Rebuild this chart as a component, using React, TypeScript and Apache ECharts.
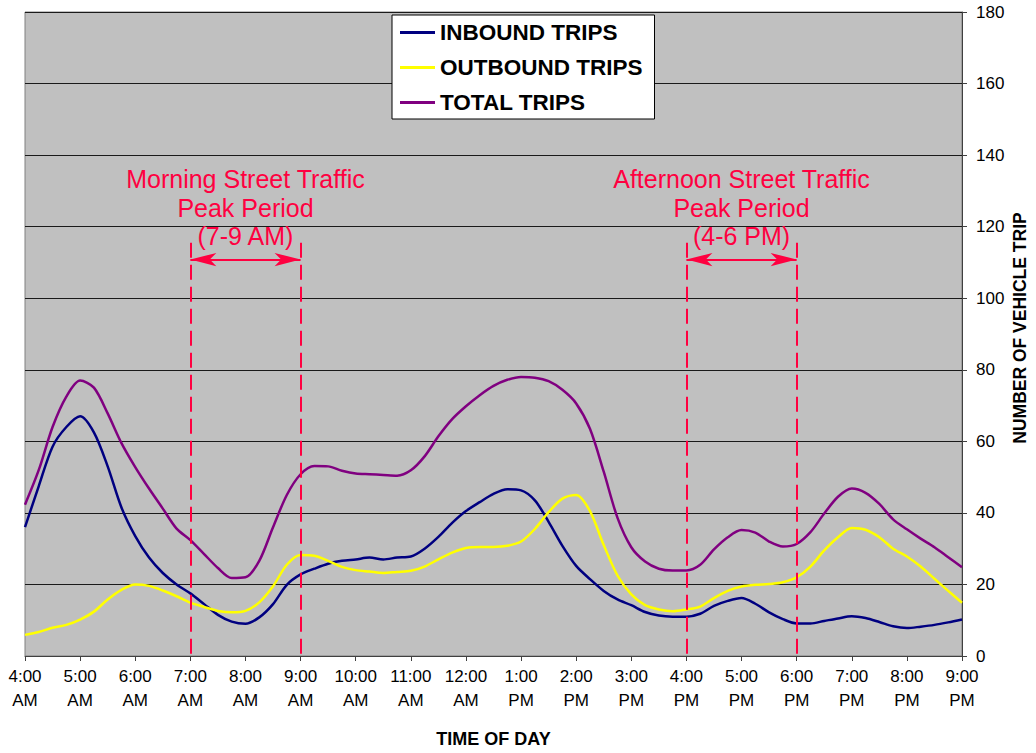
import React, { useEffect, useRef } from "react";
import * as echarts from "echarts";

// Hour ticks shown along the bottom axis (4 AM .. 9 PM)
const tickLabels = [
  "4:00\nAM", "5:00\nAM", "6:00\nAM", "7:00\nAM", "8:00\nAM", "9:00\nAM",
  "10:00\nAM", "11:00\nAM", "12:00\nAM", "1:00\nPM", "2:00\nPM", "3:00\nPM",
  "4:00\nPM", "5:00\nPM", "6:00\nPM", "7:00\nPM", "8:00\nPM", "9:00\nPM",
];

const startHour = 4;
const stepHours = 0.25; // readings every 15 minutes

const inboundTrips = [
  36, 47.5, 58.5, 64, 67, 62.5, 53, 41.5, 33.5, 27.5, 23.2, 20, 17.5, 14.5,
  11.5, 9.6, 9.0, 10.8, 14.5, 19.9, 22.8, 24.4, 25.8, 26.6, 27.0, 27.5, 27.0,
  27.5, 27.8, 30.0, 33.3, 37.2, 40.5, 43.0, 45.3, 46.6, 46.3, 43.5, 37.5, 30.8,
  25.2, 21.5, 18.2, 15.8, 14.2, 12.3, 11.3, 11.0, 11.0, 11.8, 14.0, 15.4, 16.2,
  14.6, 12.2, 10.3, 9.1, 9.1, 9.8, 10.5, 11.1, 10.6, 9.5, 8.3, 7.8, 8.2, 8.7,
  9.4, 10.2,
];

const outboundTrips = [
  5.9, 6.7, 7.9, 8.7, 10.2, 12.4, 15.8, 18.5, 20.0, 19.6, 18.3, 16.7, 14.9,
  13.7, 12.6, 12.2, 12.6, 15.0, 19.5, 25.5, 28.2, 28.0, 26.6, 24.9, 24.0, 23.6,
  23.2, 23.5, 23.8, 25.0, 27.0, 28.9, 30.2, 30.5, 30.5, 30.8, 32.0, 35.5, 40.2,
  44.0, 45.0, 40.5, 31.0, 22.5, 17.2, 14.2, 13.0, 12.5, 13.0, 13.8, 16.2, 18.2,
  19.4, 19.9, 20.1, 20.6, 22.0, 25.0, 29.5, 33.2, 35.8, 35.3, 33.2, 30.0, 27.8,
  25.0, 21.6, 18.2, 14.9,
];

const totalTrips = [
  42.3, 52.0, 64.0, 72.5, 77.0, 75.0, 67.8, 59.5, 52.8, 46.8, 41.2, 35.6, 32.4,
  28.5, 24.6, 21.8, 22.0, 26.6, 36.0, 45.0, 50.8, 53.1, 53.0, 51.8, 51.0, 50.8,
  50.6, 50.4, 51.9, 55.8, 61.4, 66.2, 69.8, 72.9, 75.5, 77.2, 78.0, 77.8, 76.8,
  74.4, 70.6, 63.5, 51.5, 38.6, 30.4, 26.4, 24.4, 23.9, 23.9, 25.5, 29.8, 33.2,
  35.2, 34.5, 32.0, 30.6, 31.3, 34.6, 39.8, 44.5, 46.8, 45.6, 42.5, 38.2, 35.4,
  32.8, 30.4, 27.6, 24.8,
];

// Street traffic peak windows (hours of day)
const peakWindows = [
  { from: 7, to: 9, title: "Morning Street Traffic\nPeak Period\n(7-9 AM)" },
  { from: 16, to: 18, title: "Afternoon Street Traffic\nPeak Period\n(4-6 PM)" },
];
const peakDashTop = 115.5;
const peakArrowLevel = 110.8;
const peakTitleLevel = 125.3;

const FONT = "'Liberation Sans', Arial, Helvetica, sans-serif";
const RED = "#ff0040";

const toPairs = (values: number[]) =>
  values.map((v, i) => [startHour + i * stepHours, v]);

export default function App() {
  const ref = useRef<HTMLDivElement>(null);

  useEffect(() => {
    if (!ref.current) return;
    const chart = echarts.init(ref.current, undefined, { renderer: "svg" });

    const lineSeries = (name: string, color: string, values: number[]) => ({
      name,
      type: "line",
      data: toPairs(values),
      smooth: 0.3,
      symbol: "none",
      lineStyle: { color, width: 2.5 },
      itemStyle: { color },
    });

    const dashLines: any[] = [];
    const arrowLines: any[] = [];
    const titles: any[] = [];
    peakWindows.forEach((p) => {
      dashLines.push([{ coord: [p.from, peakDashTop] }, { coord: [p.from, 0] }]);
      dashLines.push([{ coord: [p.to, peakDashTop] }, { coord: [p.to, 0] }]);
      arrowLines.push([
        { coord: [p.from, peakArrowLevel] },
        { coord: [p.to, peakArrowLevel] },
      ]);
      titles.push({
        coord: [(p.from + p.to) / 2, peakTitleLevel],
        label: { formatter: p.title },
      });
    });

    chart.setOption({
      animation: false,
      backgroundColor: "#ffffff",
      textStyle: { fontFamily: FONT },
      grid: {
        left: 25,
        right: 74,
        top: 12,
        bottom: 91,
        show: true,
        backgroundColor: "#c0c0c0",
        borderColor: "#808080",
        borderWidth: 1,
      },
      legend: {
        data: ["INBOUND TRIPS", "OUTBOUND TRIPS", "TOTAL TRIPS"],
        orient: "vertical",
        left: 392,
        top: 15,
        icon: "rect",
        itemWidth: 35,
        itemHeight: 3,
        itemGap: 12,
        padding: [6, 12, 5, 8],
        backgroundColor: "#ffffff",
        borderColor: "#000000",
        borderWidth: 1,
        textStyle: {
          fontFamily: FONT,
          fontWeight: "bold",
          fontSize: 22.5,
          lineHeight: 22,
          color: "#000000",
        },
      },
      xAxis: {
        type: "value",
        min: 4,
        max: 21,
        interval: 1,
        name: "TIME OF DAY",
        nameLocation: "middle",
        nameGap: 74,
        nameTextStyle: {
          fontFamily: FONT,
          fontWeight: "bold",
          fontSize: 18,
          color: "#000000",
        },
        axisLine: { show: true, lineStyle: { color: "#404040", width: 1 } },
        axisTick: { show: true, length: 5, lineStyle: { color: "#404040" } },
        splitLine: { show: false },
        axisLabel: {
          margin: 8,
          fontFamily: FONT,
          fontSize: 17,
          lineHeight: 24,
          color: "#000000",
          formatter: (v: number) => tickLabels[Math.round(v - startHour)] ?? "",
        },
      },
      yAxis: {
        type: "value",
        position: "right",
        min: 0,
        max: 180,
        interval: 20,
        axisLine: { show: true, lineStyle: { color: "#404040", width: 1 } },
        axisTick: { show: true, length: 5, lineStyle: { color: "#404040" } },
        splitLine: { show: true, lineStyle: { color: "#1a1a1a", width: 1 } },
        axisLabel: {
          margin: 14,
          fontFamily: FONT,
          fontSize: 17,
          color: "#000000",
        },
      },
      graphic: [
        {
          type: "text",
          x: 1020,
          y: 328,
          rotation: Math.PI / 2,
          style: {
            text: "NUMBER OF VEHICLE TRIP",
            fontFamily: FONT,
            fontWeight: "bold",
            fontSize: 17.5,
            fill: "#000000",
            align: "center",
            verticalAlign: "middle",
          },
        },
      ],
      series: [
        lineSeries("INBOUND TRIPS", "#000080", inboundTrips),
        lineSeries("OUTBOUND TRIPS", "#ffff00", outboundTrips),
        lineSeries("TOTAL TRIPS", "#800080", totalTrips),
        {
          name: "peak-dashes",
          type: "line",
          data: [],
          silent: true,
          markLine: {
            silent: true,
            symbol: ["none", "none"],
            label: { show: false },
            lineStyle: { color: RED, width: 2, type: [15, 7] },
            data: dashLines,
          },
        },
        {
          name: "peak-arrows",
          type: "line",
          data: [],
          silent: true,
          markLine: {
            silent: true,
            symbol: ["arrow", "arrow"],
            symbolSize: [10, 26],
            label: { show: false },
            lineStyle: { color: RED, width: 2, type: "solid" },
            itemStyle: { color: RED },
            data: arrowLines,
          },
          markPoint: {
            silent: true,
            symbol: "rect",
            symbolSize: 1,
            itemStyle: { color: "rgba(0,0,0,0)" },
            label: {
              show: true,
              position: "inside",
              fontFamily: FONT,
              fontSize: 25,
              lineHeight: 28.5,
              color: RED,
              align: "center",
              verticalAlign: "middle",
            },
            data: titles,
          },
        },
      ],
    });

    return () => chart.dispose();
  }, []);

  return (
    <div
      ref={ref}
      style={{ position: "fixed", left: 0, top: 0, width: 1036, height: 753 }}
    />
  );
}
